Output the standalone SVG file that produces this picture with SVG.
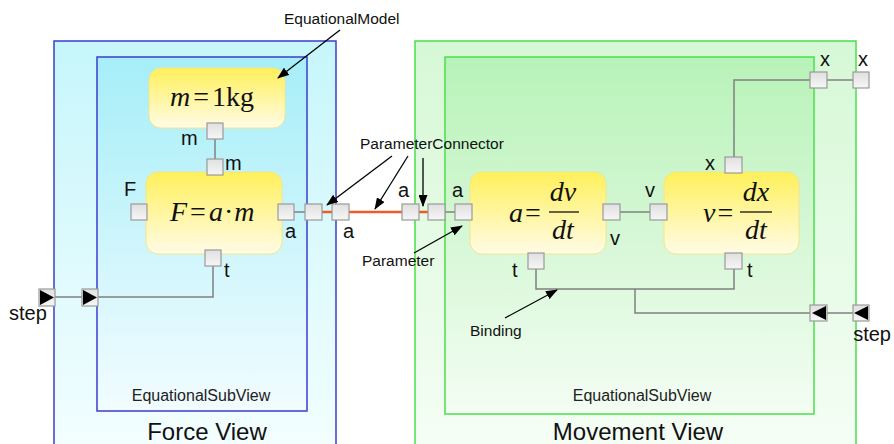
<svg xmlns="http://www.w3.org/2000/svg" width="894" height="444" viewBox="0 0 894 444">
<defs>
<linearGradient id="fvOuter" x1="0" y1="0" x2="0" y2="1"><stop offset="0" stop-color="#c6f6fb"/><stop offset="1" stop-color="#f4feff"/></linearGradient>
<linearGradient id="fvInner" x1="0" y1="0" x2="0" y2="1"><stop offset="0" stop-color="#a6eef8"/><stop offset="1" stop-color="#f2fcff"/></linearGradient>
<linearGradient id="mvOuter" x1="0" y1="0" x2="0" y2="1"><stop offset="0" stop-color="#d6f8d6"/><stop offset="1" stop-color="#f6fef6"/></linearGradient>
<linearGradient id="mvInner" x1="0" y1="0" x2="0" y2="1"><stop offset="0" stop-color="#b8f2b8"/><stop offset="1" stop-color="#f4fdf4"/></linearGradient>
<linearGradient id="node" x1="0" y1="0" x2="0" y2="1"><stop offset="0" stop-color="#fff05a"/><stop offset="1" stop-color="#fffbe6"/></linearGradient>
<linearGradient id="port" x1="0" y1="0" x2="0" y2="1"><stop offset="0" stop-color="#e0e0e0"/><stop offset="1" stop-color="#f6f6f6"/></linearGradient>
<marker id="ah" markerWidth="12" markerHeight="9" refX="11" refY="4.5" orient="auto" markerUnits="userSpaceOnUse"><path d="M0,0 L12,4.5 L0,9 z" fill="#000"/></marker>
</defs>
<style>
.port{fill:url(#port);stroke:#9a9a9a;stroke-width:1.2}
.node{fill:url(#node);stroke:#f0e68c;stroke-width:1}
.lbl{font-family:"Liberation Sans",Arial,sans-serif;font-size:20px;fill:#111}
.ann{font-family:"Liberation Sans",Arial,sans-serif;font-size:15.5px;fill:#111}
.sv{font-family:"Liberation Sans",Arial,sans-serif;font-size:16px;fill:#222;text-anchor:middle}
.title{font-family:"Liberation Sans",Arial,sans-serif;font-size:24px;fill:#111;text-anchor:middle}
.math{font-family:"Liberation Serif","Times New Roman",serif;font-size:28px;font-style:italic;fill:#111}
.up{font-style:normal}
.wire{fill:none;stroke:#808080;stroke-width:1.5}
.red{fill:none;stroke:#f05a28;stroke-width:2.5}
.arr{fill:none;stroke:#000;stroke-width:1.3;marker-end:url(#ah)}
.tri{fill:#000}
</style>
<rect width="894" height="444" fill="#fff"/>

<g id="forceView">
<rect x="54" y="41" width="282" height="420" fill="url(#fvOuter)" stroke="#3c3cd0" stroke-width="1.5"/>
<text class="title" x="207" y="440">Force View</text>
</g>
<g id="forceSubView">
<rect x="97" y="57" width="210" height="354" fill="url(#fvInner)" stroke="#3c3cd0" stroke-width="1.5"/>
<text class="sv" x="201" y="401">EquationalSubView</text>
</g>
<g id="movementView">
<rect x="415" y="41" width="441" height="420" fill="url(#mvOuter)" stroke="#4ae04a" stroke-width="1.5"/>
<text class="title" x="638" y="440">Movement View</text>
</g>
<g id="movementSubView">
<rect x="445" y="57" width="369" height="357" fill="url(#mvInner)" stroke="#4ae04a" stroke-width="1.5"/>
<text class="sv" x="642" y="401">EquationalSubView</text>
</g>

<g id="connectors">
<line class="wire" x1="215" y1="139" x2="215" y2="159"/>
<line class="wire" x1="294" y1="212" x2="305" y2="212"/>
<line class="red" x1="322" y1="212" x2="332" y2="212"/>
<line class="red" x1="349" y1="212" x2="402" y2="212"/>
<line class="red" x1="419" y1="212" x2="428" y2="212"/>
<line class="wire" x1="445" y1="212" x2="455" y2="212"/>
<line class="wire" x1="620" y1="212" x2="650" y2="212"/>
<polyline class="wire" points="734,157 734,80 810,80"/>
<line class="wire" x1="827" y1="80" x2="853" y2="80"/>
<polyline class="wire" points="213,266 213,297 98,297"/>
<line class="wire" x1="55" y1="297" x2="82" y2="297"/>
<polyline class="wire" points="536,269 536,289 734,289 734,269"/>
<polyline class="wire" points="635,289 635,313 810,313"/>
<line class="wire" x1="827" y1="313" x2="853" y2="313"/>
</g>

<g id="nodeMass">
<rect class="node" x="149" y="68" width="136" height="60" rx="12"/>
<text class="math" x="170" y="106">m<tspan class="up" dx="3">=</tspan><tspan class="up" dx="3">1kg</tspan></text>
<rect class="port" x="207" y="123" width="16" height="16"/>
<text class="lbl" x="181" y="145">m</text>
</g>
<g id="nodeForce">
<rect class="node" x="146" y="172" width="136" height="82" rx="12"/>
<text class="math" x="170" y="221">F<tspan class="up" dx="3">=</tspan><tspan dx="3">a</tspan><tspan class="up" dx="1">·</tspan><tspan dx="1">m</tspan></text>
<rect class="port" x="207" y="159" width="16" height="16"/>
<text class="lbl" x="225" y="170">m</text>
<rect class="port" x="131" y="204" width="16" height="16"/>
<text class="lbl" x="124" y="196">F</text>
<rect class="port" x="278" y="204" width="16" height="16"/>
<text class="lbl" x="285" y="238">a</text>
<rect class="port" x="205" y="250" width="16" height="16"/>
<text class="lbl" x="224" y="277">t</text>
</g>
<g id="forceViewPorts">
<rect class="port" x="305" y="204" width="17" height="16"/>
<rect class="port" x="332" y="204" width="17" height="16"/>
<text class="lbl" x="343" y="238">a</text>
<rect class="port" x="82" y="289" width="16" height="17"/>
<path class="tri" d="M83,290 L97,297.5 L83,305 z"/>
<rect class="port" x="39" y="289" width="16" height="17"/>
<path class="tri" d="M40,290 L54,297.5 L40,305 z"/>
<text class="lbl" x="9" y="320" font-size="18">step</text>
</g>
<g id="movementViewPorts">
<rect class="port" x="402" y="204" width="17" height="16"/>
<text class="lbl" x="398" y="197">a</text>
<rect class="port" x="428" y="204" width="17" height="16"/>
<rect class="port" x="810" y="72" width="17" height="16"/>
<text class="lbl" x="820" y="66">x</text>
<rect class="port" x="853" y="72" width="16" height="16"/>
<text class="lbl" x="858" y="66">x</text>
<rect class="port" x="810" y="305" width="17" height="16"/>
<path class="tri" d="M826,306 L812,313 L826,320 z"/>
<rect class="port" x="853" y="305" width="16" height="16"/>
<path class="tri" d="M868,306 L854,313 L868,320 z"/>
<text class="lbl" x="891" y="341" font-size="17" text-anchor="end">step</text>
</g>
<g id="nodeAccel">
<rect class="node" x="470" y="172" width="136" height="82" rx="12"/>
<text class="math" x="509" y="222">a<tspan class="up" dx="2">=</tspan></text>
<text class="math" x="563" y="201" text-anchor="middle">dv</text>
<line x1="549" y1="212" x2="579" y2="212" stroke="#111" stroke-width="1.3"/>
<text class="math" x="563" y="239" text-anchor="middle">dt</text>
<rect class="port" x="455" y="204" width="17" height="16"/>
<text class="lbl" x="452" y="197">a</text>
<rect class="port" x="603" y="204" width="17" height="16"/>
<text class="lbl" x="610" y="245">v</text>
<rect class="port" x="528" y="253" width="16" height="16"/>
<text class="lbl" x="512" y="277">t</text>
</g>
<g id="nodeVel">
<rect class="node" x="664" y="172" width="135" height="82" rx="12"/>
<text class="math" x="703" y="222">v<tspan class="up" dx="2">=</tspan></text>
<text class="math" x="756" y="201" text-anchor="middle">dx</text>
<line x1="740" y1="212" x2="772" y2="212" stroke="#111" stroke-width="1.3"/>
<text class="math" x="756" y="239" text-anchor="middle">dt</text>
<rect class="port" x="650" y="204" width="17" height="16"/>
<text class="lbl" x="645" y="197">v</text>
<rect class="port" x="725" y="157" width="17" height="16"/>
<text class="lbl" x="705" y="170">x</text>
<rect class="port" x="725" y="253" width="17" height="16"/>
<text class="lbl" x="747" y="277">t</text>
</g>

<g id="annotations">
<text class="ann" x="284" y="24">EquationalModel</text>
<line class="arr" x1="340" y1="30" x2="278" y2="78"/>
<text class="ann" x="360" y="149">ParameterConnector</text>
<line class="arr" x1="392" y1="156" x2="327" y2="205"/>
<line class="arr" x1="408" y1="156" x2="375" y2="209"/>
<line class="arr" x1="423" y1="158" x2="423" y2="206"/>
<text class="ann" x="362" y="266">Parameter</text>
<line class="arr" x1="414" y1="253" x2="462" y2="226"/>
<text class="ann" x="470" y="336">Binding</text>
<line class="arr" x1="505" y1="318" x2="557" y2="290"/>
</g>
</svg>
